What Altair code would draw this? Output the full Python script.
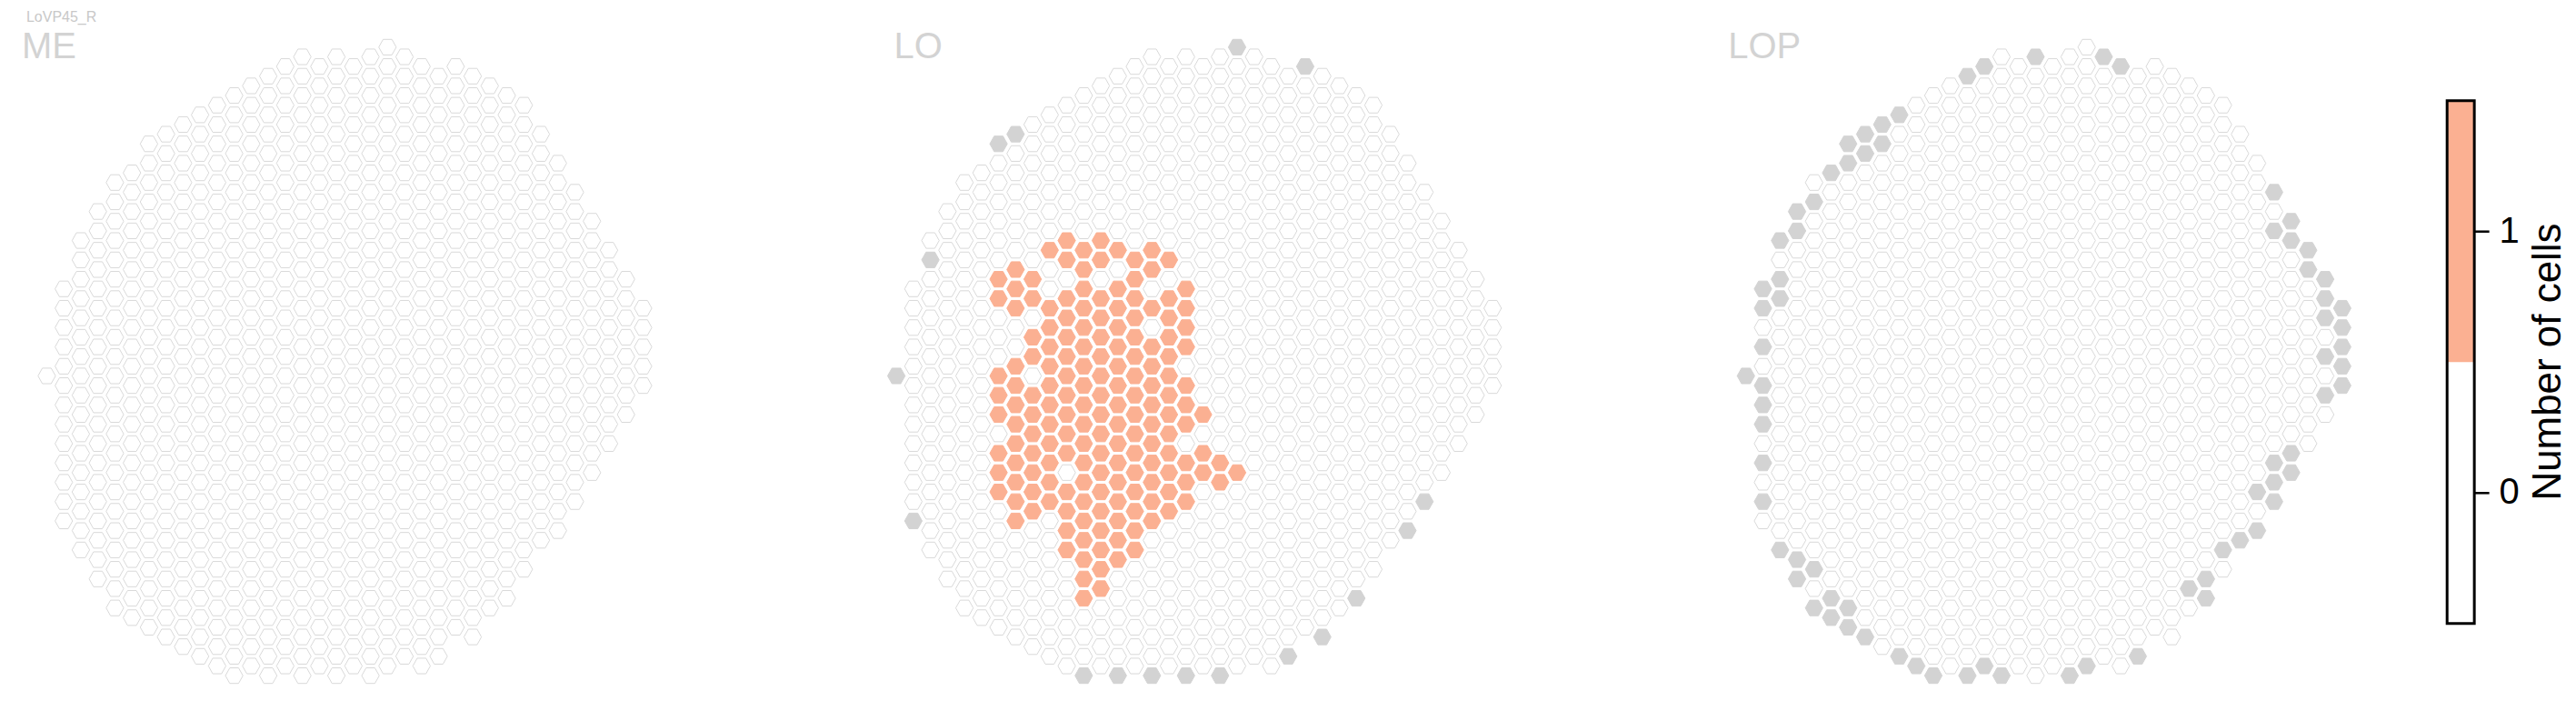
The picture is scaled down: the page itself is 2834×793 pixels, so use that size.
import altair as alt
import pandas as pd

# ---------------- data ----------------
CELL_TYPE = "LoVP45_R"
REGIONS = ["ME", "LO", "LOP"]

# hexagonal column grid: for every vertical column (hex x index) the first and
# last half-row index (rows step by 2 inside a column, odd columns are offset)
GRID_COL = list(range(36))
GRID_ROW_MIN = [0, -9, -14, -17, -20, -21, -24, -25, -26, -27, -28, -29, -30, -31, -32, -33, -32, -33,
                -32, -33, -34, -33, -32, -31, -32, -31, -30, -29, -28, -25, -22, -19, -16, -13, -10, -7]
GRID_ROW_MAX = [0, 15, 18, 21, 24, 25, 26, 27, 28, 29, 30, 31, 30, 31, 30, 31, 30, 31,
                30, 31, 30, 29, 30, 29, 26, 27, 24, 23, 20, 17, 16, 13, 10, 7, 4, 1]

# columns that do not exist in the neuropil (grey)
LO_ABSENT_COL = [20, 24, 7, 6, 2, 0, 1, 31, 30, 27, 25, 23, 11, 13, 15, 17, 19]
LO_ABSENT_ROW = [-34, -32, -25, -24, -12, 0, 15, 13, 16, 23, 27, 29, 31, 31, 31, 31, 31]

LOP_ABSENT_COL = [17, 14, 21, 22, 13, 9, 8, 7, 6, 8, 7, 6, 5, 4, 3, 3, 2, 2, 1, 2, 1, 1, 0, 1, 1, 1,
                  1, 1, 2, 3, 4, 3, 5, 4, 6, 5, 6, 7, 9, 10, 11, 13, 14, 15, 19, 20, 23,
                  31, 32, 31, 32, 33, 33, 34, 34, 35, 34, 35, 35, 34, 35, 35, 34,
                  32, 31, 32, 31, 30, 31, 30, 29, 28, 27, 26, 27]
LOP_ABSENT_ROW = [-33, -32, -33, -32, -31, -27, -26, -25, -24, -24, -23, -22, -21, -18, -17, -15, -14,
                  -10, -9, -8, -7, -3, 0, 1, 3, 5, 9, 13, 18, 19, 20, 21, 23, 24, 24, 25, 26, 27,
                  29, 30, 31, 31, 30, 31, 31, 30, 29,
                  -19, -16, -15, -14, -13, -11, -10, -8, -7, -6, -5, -3, -2, -1, 1, 2,
                  8, 9, 10, 11, 12, 13, 16, 17, 18, 21, 22, 23]

# LO columns with 1 cell, listed per half-row index
LO_ONE_ROWS = {
    -14: [10, 12], -13: [9, 11, 13, 15], -12: [10, 12, 14, 16], -11: [7, 11, 15],
    -10: [6, 8, 14], -9: [7, 11, 13, 17], -8: [6, 8, 10, 12, 14, 16], -7: [7, 9, 11, 13, 15, 17],
    -6: [10, 12, 14, 16], -5: [9, 11, 13, 17], -4: [8, 10, 12, 14, 16], -3: [9, 11, 13, 15, 17],
    -2: [8, 10, 12, 14, 16], -1: [7, 9, 11, 13, 15], 0: [6, 10, 12, 14, 16],
    1: [7, 9, 11, 13, 15, 17], 2: [6, 8, 10, 12, 14, 16], 3: [7, 9, 11, 13, 15, 17],
    4: [6, 8, 10, 12, 14, 16, 18], 5: [7, 9, 11, 13, 15, 17], 6: [8, 10, 12, 14, 16],
    7: [7, 9, 11, 13, 15], 8: [6, 8, 10, 12, 14, 16, 18], 9: [7, 9, 11, 13, 15, 17, 19],
    10: [6, 8, 12, 14, 16, 18, 20], 11: [7, 9, 11, 13, 15, 17, 19], 12: [6, 8, 10, 12, 14, 16],
    13: [7, 9, 11, 13, 15, 17], 14: [8, 10, 12, 14, 16], 15: [7, 11, 13, 15], 16: [10, 12, 14],
    17: [11, 13], 18: [10, 12, 14], 19: [11, 13], 20: [12], 21: [11], 22: [12], 23: [11],
}

STATES = ["0", "1", "absent"]
STATE_FILL = ["#ffffff", "#fbb092", "#d3d3d3"]
STATE_STROKE = ["#d9d9d9", "#fbb092", "#d3d3d3"]

CBAR_VALUES = [0, 1]
CBAR_COLORS = ["#ffffff", "#fbb092"]
CBAR_TITLE = "Number of cells"

FONT = "Liberation Sans"

# ---------------- build tables ----------------
def region_table(absent_cols, absent_rows, ones):
    absent = set(zip(absent_cols, absent_rows))
    recs = []
    for c, lo, hi in zip(GRID_COL, GRID_ROW_MIN, GRID_ROW_MAX):
        for r in range(lo, hi + 1, 2):
            if (c, r) in absent:
                s = "absent"
            elif (c, r) in ones:
                s = "1"
            else:
                s = "0"
            recs.append({"hx": c, "hy": r, "state": s})
    return pd.DataFrame(recs)

lo_ones = {(c, r) for r, cs in LO_ONE_ROWS.items() for c in cs}
tables = {
    "ME": region_table([], [], set()),
    "LO": region_table(LO_ABSENT_COL, LO_ABSENT_ROW, lo_ones),
    "LOP": region_table(LOP_ABSENT_COL, LOP_ABSENT_ROW, set()),
}

HEX = "M-1,0L-0.5,-0.89L0.5,-0.89L1,0L0.5,0.89L-0.5,0.89Z"
PX_PER_COL = 18.77
X0 = -2.265
PANEL_H = 777
Y_DOMAIN = [-37.98, 34.98]
PANEL_W = {"ME": 934, "LO": 934, "LOP": 812}
TITLE_X = {"ME": 15, "LO": 40, "LOP": 23}


def panel(name):
    w = PANEL_W[name]
    xs = alt.Scale(domain=[X0, X0 + w / PX_PER_COL], nice=False, zero=False)
    ys = alt.Scale(domain=Y_DOMAIN, nice=False, zero=False, reverse=True)
    hexes = alt.Chart(tables[name]).mark_point(
        shape=HEX, filled=True, size=372, strokeWidth=1, opacity=1
    ).encode(
        x=alt.X("hx:Q", scale=xs, axis=None),
        y=alt.Y("hy:Q", scale=ys, axis=None),
        fill=alt.Fill("state:N", scale=alt.Scale(domain=STATES, range=STATE_FILL), legend=None),
        stroke=alt.Stroke("state:N", scale=alt.Scale(domain=STATES, range=STATE_STROKE), legend=None),
    )
    title = alt.Chart(pd.DataFrame({"t": [name]})).mark_text(
        align="left", baseline="alphabetic", fontSize=40, color="#d3d3d3", font=FONT
    ).encode(text="t:N", x=alt.value(TITLE_X[name]), y=alt.value(54.3))
    layers = [hexes, title]
    if name == "ME":
        sup = alt.Chart(pd.DataFrame({"t": [CELL_TYPE]})).mark_text(
            align="left", baseline="alphabetic", fontSize=16, color="#c8c8c8", font=FONT
        ).encode(text="t:N", x=alt.value(20), y=alt.value(14.5))
        layers.append(sup)
    return alt.layer(*layers).properties(width=w, height=PANEL_H)


# ---------------- colour bar ----------------
cb = pd.DataFrame({"value": CBAR_VALUES, "color": CBAR_COLORS})
cb["lo"] = cb["value"] - 0.5
cb["hi"] = cb["value"] + 0.5
frame_df = pd.DataFrame({"lo": [min(CBAR_VALUES) - 0.5], "hi": [max(CBAR_VALUES) + 0.5]})
cb_scale = alt.Scale(domain=[-0.8468, 1.852], nice=False, zero=False)
cb_axis = alt.Axis(
    orient="right", values=CBAR_VALUES, format="d", domain=False, grid=False,
    tickSize=16, tickWidth=2.5, tickColor="black", labelFontSize=40, labelColor="black",
    labelPadding=11, labelFont=FONT, title=CBAR_TITLE, titleFontSize=44,
    titleFontWeight="normal", titleColor="black", titleFont=FONT,
    titleAngle=270, titleBaseline="top", titlePadding=10)
cb_fill = alt.Chart(cb).mark_rect().encode(
    y=alt.Y("lo:Q", scale=cb_scale, axis=cb_axis),
    y2="hi:Q",
    color=alt.Color("color:N", scale=None),
)
cb_frame = alt.Chart(frame_df).mark_rect(fillOpacity=0, stroke="black", strokeWidth=3).encode(
    y=alt.Y("lo:Q", scale=cb_scale, axis=cb_axis),
    y2="hi:Q",
)
colorbar = alt.layer(cb_fill, cb_frame).properties(width=30, height=PANEL_H)

chart = alt.hconcat(
    *[panel(r) for r in REGIONS], colorbar, spacing=0
).properties(padding=0).configure(
    font=FONT
).configure_view(stroke="transparent")

chart.save("out.html", embed_options={"renderer": "svg", "actions": False})
